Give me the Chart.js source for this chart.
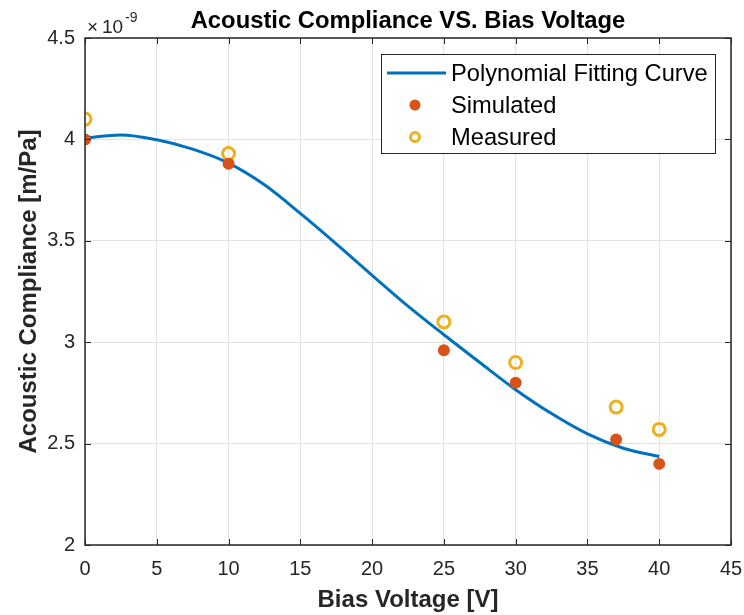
<!DOCTYPE html>
<html>
<head>
<meta charset="utf-8">
<script src="https://cdn.jsdelivr.net/npm/chart.js@4"></script>
<style>
  html, body { margin: 0; padding: 0; background: #fff; }
  #wrap { width: 744px; height: 615px; position: relative; }
</style>
</head>
<body>
<div id="wrap"><canvas id="compliance"></canvas></div>
<script>
// values in units of 1e-9 m/Pa
const biasVoltage = [0, 10, 25, 30, 37, 40];
const simulated = [4.00, 3.88, 2.96, 2.80, 2.52, 2.40];
const measured = [4.10, 3.93, 3.10, 2.90, 2.68, 2.57];

// fitted curve
const fitVoltage = [0, 2.5, 5, 7.5, 10, 12.5, 15, 17.5, 20, 22.5, 25, 27.5, 30, 32.5, 35, 37.5, 40];
const fitValues = [4.006, 4.022, 3.998, 3.952, 3.883, 3.776, 3.635, 3.485, 3.330, 3.178, 3.037, 2.900, 2.766, 2.648, 2.548, 2.477, 2.436];

const xTicks = [0, 5, 10, 15, 20, 25, 30, 35, 40, 45];
const yTicks = [2, 2.5, 3, 3.5, 4, 4.5];

const blue = '#0072BD';
const orange = '#D95319';
const yellow = '#EDB120';
const axisGray = '#262626';
const fontFamily = '"Liberation Sans", Arial, sans-serif';

const toPoints = (xs, ys) => xs.map((x, i) => ({ x: x, y: ys[i] }));

// box around the axes with inward ticks, exponent and title
const matlabFrame = {
    id: 'matlabFrame',
    afterDatasetsDraw(chart) {
        const { ctx, chartArea: a, scales } = chart;
        ctx.save();
        ctx.strokeStyle = axisGray;
        ctx.lineWidth = 1;
        ctx.beginPath();
        xTicks.forEach(v => {
            const px = Math.round(scales.x.getPixelForValue(v)) + 0.5;
            ctx.moveTo(px, a.bottom); ctx.lineTo(px, a.bottom - 6);
            ctx.moveTo(px, a.top); ctx.lineTo(px, a.top + 6);
        });
        yTicks.forEach(v => {
            const py = Math.round(scales.y.getPixelForValue(v)) + 0.5;
            ctx.moveTo(a.left, py); ctx.lineTo(a.left + 6, py);
            ctx.moveTo(a.right, py); ctx.lineTo(a.right - 6, py);
        });
        ctx.stroke();
        ctx.lineWidth = 1.5;
        ctx.strokeRect(a.left, a.top, a.right - a.left, a.bottom - a.top);

        ctx.fillStyle = axisGray;
        ctx.textBaseline = 'alphabetic';
        ctx.textAlign = 'left';
        ctx.font = '19px ' + fontFamily;
        ctx.fillText('\u00d7', a.left + 2, a.top - 5);
        ctx.fillText('10', a.left + 17, a.top - 5);
        ctx.font = '14px ' + fontFamily;
        ctx.fillText('-9', a.left + 40, a.top - 16);

        ctx.fillStyle = '#000';
        ctx.textAlign = 'center';
        ctx.font = 'bold 23.8px ' + fontFamily;
        ctx.fillText('Acoustic Compliance VS. Bias Voltage', (a.left + a.right) / 2, 28);
        ctx.restore();
    }
};

// legend box, MATLAB style
const matlabLegend = {
    id: 'matlabLegend',
    afterDraw(chart) {
        const { ctx } = chart;
        const x0 = 381, y0 = 54, w = 334, h = 99;
        ctx.save();
        ctx.fillStyle = '#fff';
        ctx.fillRect(x0, y0, w, h);
        ctx.strokeStyle = '#262626';
        ctx.lineWidth = 1;
        ctx.strokeRect(x0 + 0.5, y0 + 0.5, w, h);

        const rows = [73, 105, 137];
        ctx.strokeStyle = blue;
        ctx.lineWidth = 3;
        ctx.beginPath();
        ctx.moveTo(387, rows[0]); ctx.lineTo(446, rows[0]);
        ctx.stroke();

        ctx.fillStyle = orange;
        ctx.beginPath();
        ctx.arc(415, rows[1], 5.5, 0, Math.PI * 2);
        ctx.fill();

        ctx.strokeStyle = yellow;
        ctx.lineWidth = 3;
        ctx.beginPath();
        ctx.arc(415, rows[2], 4.5, 0, Math.PI * 2);
        ctx.stroke();

        ctx.fillStyle = '#000';
        ctx.font = '23.7px ' + fontFamily;
        ctx.textBaseline = 'middle';
        ctx.fillText('Polynomial Fitting Curve', 451, rows[0] + 1);
        ctx.fillText('Simulated', 451, rows[1] + 1);
        ctx.fillText('Measured', 451, rows[2] + 1);
        ctx.restore();
    }
};

const dataCompliance = {
    datasets: [{
        label: 'Polynomial Fitting Curve',
        data: toPoints(fitVoltage, fitValues),
        borderColor: blue,
        backgroundColor: blue,
        borderWidth: 3,
        pointRadius: 0,
        showLine: true,
        cubicInterpolationMode: 'monotone',
        order: 3
    }, {
        label: 'Simulated',
        data: toPoints(biasVoltage, simulated),
        backgroundColor: orange,
        borderColor: orange,
        borderWidth: 0,
        pointRadius: 6,
        showLine: false,
        order: 1
    }, {
        label: 'Measured',
        data: toPoints(biasVoltage, measured),
        backgroundColor: 'rgba(0,0,0,0)',
        borderColor: yellow,
        borderWidth: 3,
        pointRadius: 6,
        showLine: false,
        order: 2
    }]
};

const configCompliance = {
    type: 'scatter',
    data: dataCompliance,
    plugins: [matlabFrame, matlabLegend],
    options: {
        responsive: true,
        maintainAspectRatio: false,
        animation: false,
        layout: {
            padding: { top: 38, right: 13, left: 0, bottom: 0 }
        },
        plugins: {
            legend: { display: false },
            title: { display: false },
            tooltip: { enabled: false }
        },
        scales: {
            x: {
                type: 'linear',
                min: 0,
                max: 45,
                afterBuildTicks: s => { s.ticks = xTicks.map(v => ({ value: v })); },
                afterFit: s => { s.height = 70; s.paddingLeft = 0; s.paddingRight = 0; },
                border: { display: false },
                grid: { color: '#e3e3e3', drawTicks: false },
                ticks: {
                    padding: 12,
                    color: axisGray,
                    font: { family: fontFamily, size: 20 },
                    maxRotation: 0
                },
                title: {
                    display: true,
                    text: 'Bias Voltage [V]',
                    color: axisGray,
                    padding: { top: 0, bottom: 0 },
                    font: { family: fontFamily, size: 24, weight: 'bold' }
                }
            },
            y: {
                type: 'linear',
                min: 2,
                max: 4.5,
                afterBuildTicks: s => { s.ticks = yTicks.map(v => ({ value: v })); },
                afterFit: s => { s.width = 85; s.paddingTop = 0; s.paddingBottom = 0; },
                border: { display: false },
                grid: { color: '#e3e3e3', drawTicks: false },
                ticks: {
                    padding: 10,
                    color: axisGray,
                    font: { family: fontFamily, size: 20 },
                    callback: v => String(v)
                },
                title: {
                    display: true,
                    text: 'Acoustic Compliance [m/Pa]',
                    color: axisGray,
                    padding: { top: 15, bottom: 0 },
                    font: { family: fontFamily, size: 24, weight: 'bold' }
                }
            }
        }
    }
};

const chartCompliance = new Chart(document.getElementById('compliance'), configCompliance);
</script>
</body>
</html>
